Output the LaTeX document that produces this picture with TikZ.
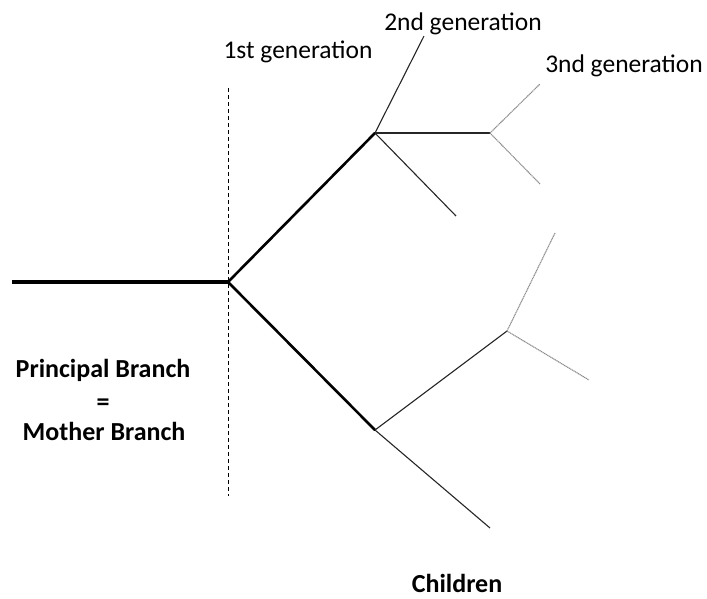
\documentclass[tikz,border=0pt]{standalone}
\usepackage{fontspec}
\setmainfont{Carlito}
\begin{document}
\begin{tikzpicture}[x=1pt,y=-1pt,
  label/.style={inner sep=0pt,anchor=base,font=\fontsize{25.5}{30}\selectfont},
  boldlabel/.style={label,font=\fontsize{26}{30}\selectfont\bfseries},
  mother/.style={line width=4pt,black},
  first/.style={line width=2.6pt,black},
  second/.style={line width=1.1pt,black!85},
  third/.style={line width=1.1pt,black!45,dash pattern=on 1.2pt off 0.6pt},
  divider/.style={line width=1pt,dash pattern=on 4pt off 3pt}]
\useasboundingbox (0,0) rectangle (707,598);

% junctions and free branch ends
\coordinate (start) at (12,282);
\coordinate (root) at (228,282);
\coordinate (up) at (375,133);
\coordinate (low) at (375,430);
\coordinate (upT) at (424,36);
\coordinate (upM) at (490,133);
\coordinate (upB) at (456,216);
\coordinate (upMT) at (540,84);
\coordinate (upMB) at (540,184);
\coordinate (lowM) at (507,331);
\coordinate (lowB) at (490,528);
\coordinate (lowMT) at (555,233);
\coordinate (lowMB) at (589,380);
\coordinate (divTop) at (228,88);
\coordinate (divBot) at (228,496);

% generation boundary
\draw[divider] (divTop) -- (divBot);

% principal branch
\draw[mother] (start) -- (root);

% first generation
\draw[first,line cap=round] (root) -- (up);
\draw[first,line cap=round] (root) -- (low);

% second generation
\draw[second] (up) -- (upT);
\draw[second] (up) -- (upM);
\draw[second] (up) -- (upB);
\draw[second] (low) -- (lowM);
\draw[second] (low) -- (lowB);

% third generation
\draw[third] (upM) -- (upMT);
\draw[third] (upM) -- (upMB);
\draw[third] (lowM) -- (lowMT);
\draw[third] (lowM) -- (lowMB);

% labels
\node[label] (g1) at (298,58) {1st generation};
\node[label] (g2) at (463,30) {2nd generation};
\node[label] (g3) at (624,72) {3nd generation};
\node[boldlabel] (pb) at (103,377) {Principal Branch};
\node[boldlabel] (eq) at (103,410) {=};
\node[boldlabel] (mb) at (104,440) {Mother Branch};
\node[boldlabel,text depth=0pt] (ch) at (457,592) {Children};
\end{tikzpicture}
\end{document}
